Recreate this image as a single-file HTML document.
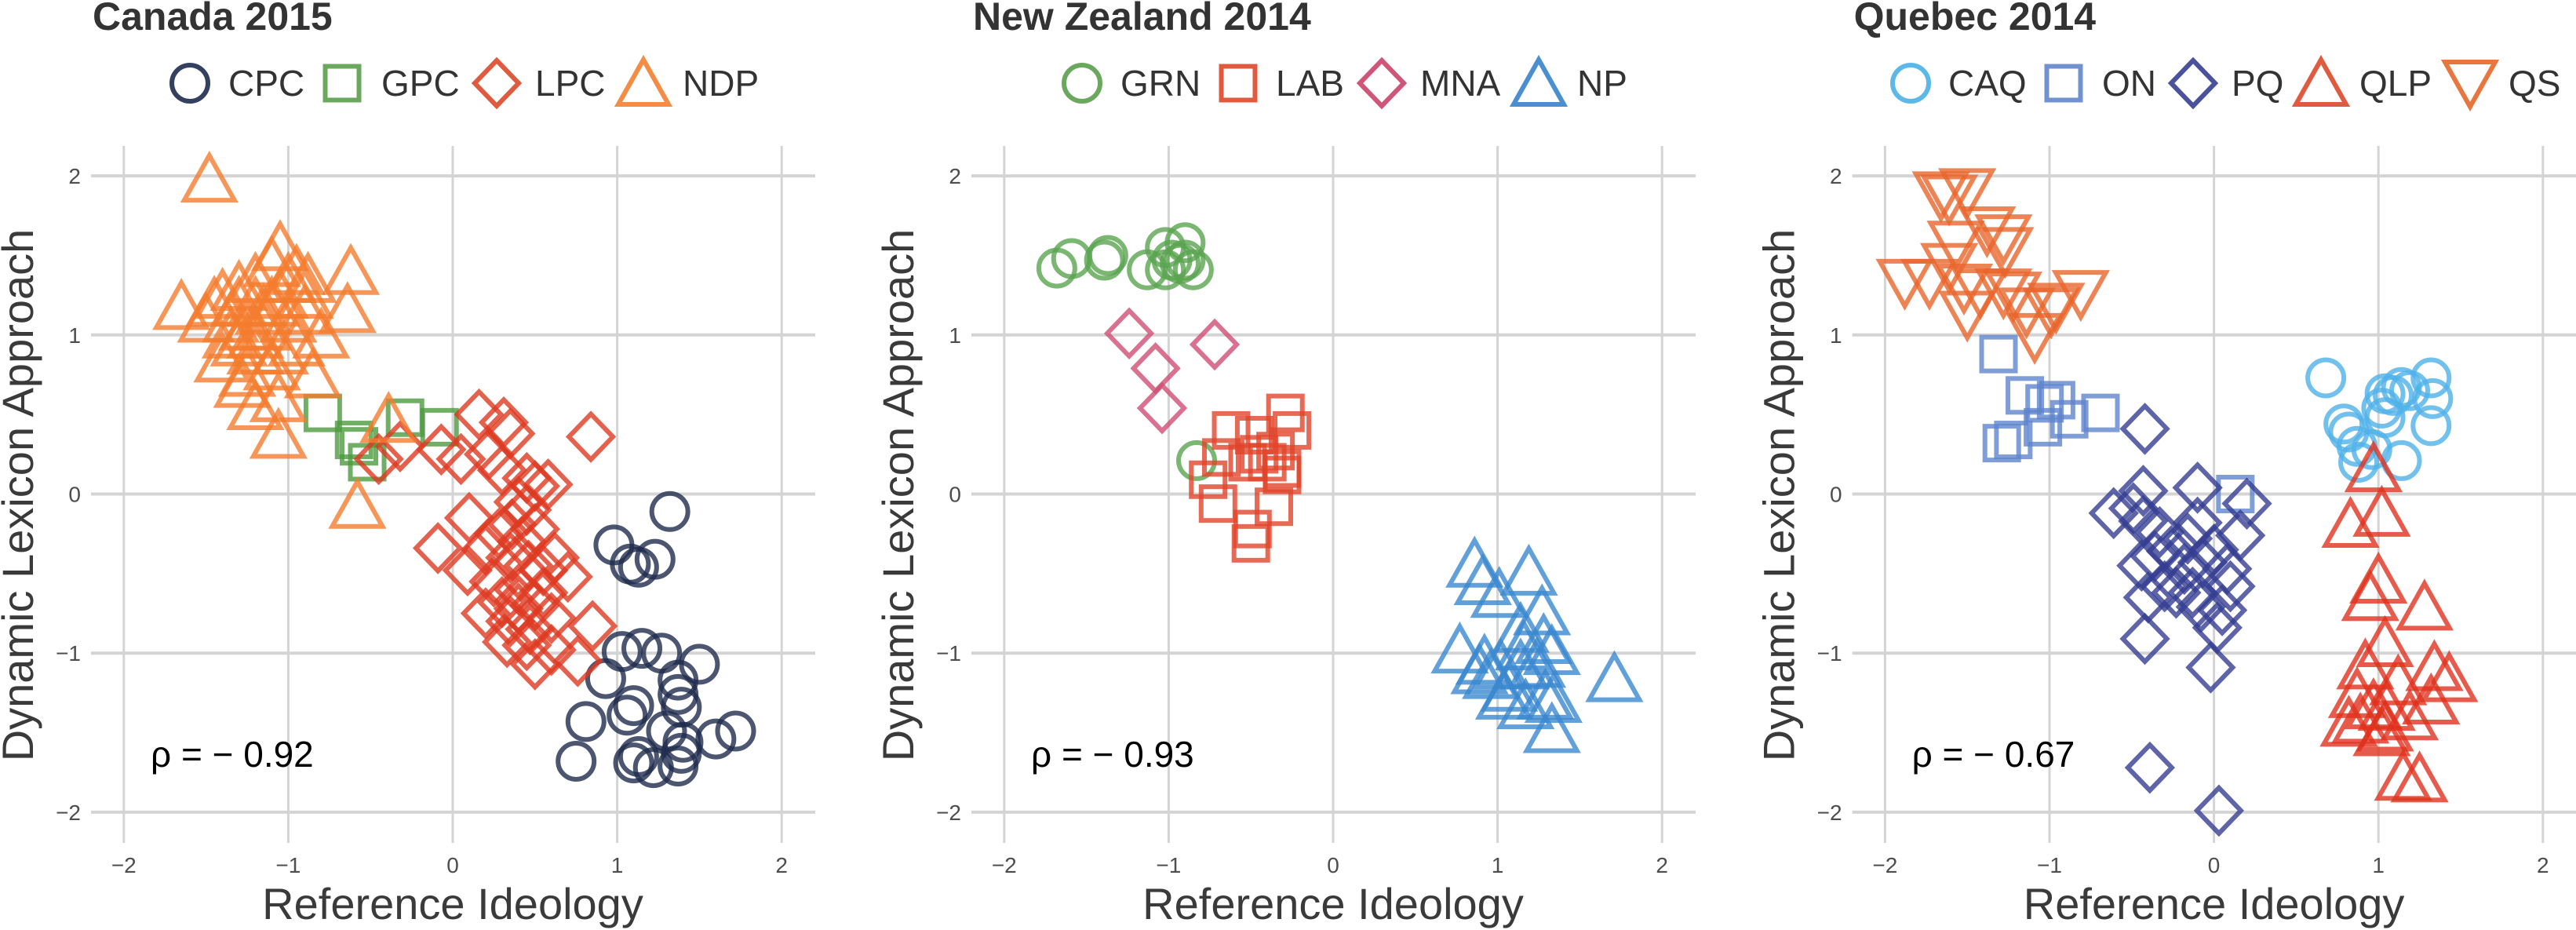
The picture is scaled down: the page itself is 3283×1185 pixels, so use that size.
<!DOCTYPE html>
<html><head><meta charset="utf-8"><style>
html,body{margin:0;padding:0;background:#fff;}
svg{display:block;font-family:"Liberation Sans",Arial,sans-serif;}
</style></head><body>
<svg id="chart" width="3283" height="1185" viewBox="0 0 3283 1185" xmlns="http://www.w3.org/2000/svg"></svg>
<script>
// ---- Data ----
const ticks = [-2,-1,0,1,2];
const tickLabels = ["\u22122","\u22121","0","1","2"];
const panelTitles = ["Canada 2015","New Zealand 2014","Quebec 2014"];
const rhoLabels = ["\u03c1 = \u2212 0.92","\u03c1 = \u2212 0.93","\u03c1 = \u2212 0.67"];

// Canada 2015
const cpc = [[1.32,-0.11],[0.98,-0.32],[1.23,-0.41],[1.13,-0.46],[1.08,-0.44],[1.03,-0.99],[1.15,-0.97],[1.27,-1.0],[1.50,-1.07],[0.93,-1.16],[1.37,-1.17],[1.37,-1.26],[1.10,-1.33],[1.39,-1.34],[0.81,-1.43],[1.06,-1.39],[1.30,-1.49],[1.40,-1.56],[1.72,-1.49],[1.60,-1.54],[0.75,-1.68],[1.10,-1.69],[1.22,-1.72],[1.37,-1.71],[1.13,-1.65],[1.39,-1.63]];
const gpc = [[-0.79,0.51],[-0.60,0.34],[-0.29,0.48],[-0.08,0.42],[-0.52,0.20],[-0.57,0.30]];
const lpc = [[0.16,0.5],[0.31,0.45],[0.35,0.38],[0.84,0.36],[-0.07,0.28],[0.05,0.22],[-0.45,0.22],[-0.32,0.3],[0.22,0.25],[0.3,0.15],[0.45,0.1],[0.5,0.05],[0.58,0.06],[0.4,-0.05],[0.45,-0.1],[0.1,-0.15],[0.36,-0.19],[0.28,-0.25],[0.5,-0.22],[0.42,-0.3],[-0.09,-0.34],[0.2,-0.35],[0.35,-0.4],[0.46,-0.45],[0.09,-0.48],[0.55,-0.48],[0.7,-0.52],[0.25,-0.55],[0.4,-0.6],[0.3,-0.68],[0.5,-0.7],[0.2,-0.75],[0.35,-0.8],[0.47,-0.85],[0.85,-0.83],[0.6,-0.78],[0.33,-0.93],[0.45,-0.95],[0.5,-1.07],[0.6,-0.98],[0.76,-1.05],[0.4,-0.72],[0.55,-0.62],[0.62,-0.4]];
const ndp = [[-1.48,1.98],[-1.05,1.55],[-1.1,1.45],[-0.95,1.4],[-0.88,1.35],[-1.3,1.3],[-1.4,1.25],[-1.2,1.2],[-1.1,1.2],[-0.9,1.15],[-1.5,1.1],[-1.35,1.1],[-1.25,1.05],[-1.15,1.05],[-1.0,1.1],[-0.8,1.0],[-0.95,0.95],[-1.3,0.95],[-1.2,0.9],[-1.05,0.9],[-1.4,0.85],[-1.25,0.76],[-1.1,0.8],[-0.85,0.75],[-1.28,0.69],[-1.2,0.55],[-1.06,0.6],[-1.45,1.2],[-1.3,1.2],[-1.2,1.35],[-1.15,1.15],[-1.05,1.25],[-1.2,1.0],[-1.35,1.0],[-0.9,1.25],[-1.0,1.35],[-0.62,1.4],[-0.64,1.16],[-1.65,1.18],[-1.06,0.37],[-0.58,-0.07],[-0.39,0.47]];

// New Zealand 2014
const grn = [[-1.68,1.42],[-1.59,1.48],[-1.37,1.50],[-1.39,1.47],[-1.13,1.41],[-1.02,1.55],[-0.90,1.58],[-0.98,1.47],[-0.85,1.41],[-1.02,1.41],[-0.93,1.45],[-0.90,1.47],[-0.83,0.21]];
const lab = [[-0.29,0.51],[-0.62,0.40],[-0.25,0.40],[-0.48,0.37],[-0.68,0.23],[-0.45,0.25],[-0.35,0.27],[-0.52,0.20],[-0.40,0.20],[-0.31,0.12],[-0.76,0.09],[-0.70,-0.06],[-0.36,-0.08],[-0.49,-0.22],[-0.50,-0.31],[-0.31,0.16]];
const mna = [[-1.24,1.01],[-0.72,0.94],[-1.08,0.79],[-1.04,0.54]];
const np = [[0.86,-0.44],[1.19,-0.49],[0.91,-0.55],[1.01,-0.63],[1.27,-0.74],[1.14,-0.85],[0.77,-0.98],[1.28,-0.92],[1.33,-0.99],[0.92,-1.05],[1.02,-1.08],[1.14,-1.08],[1.24,-1.07],[1.71,-1.16],[0.96,-1.14],[1.07,-1.22],[1.29,-1.27],[1.04,-1.27],[1.17,-1.33],[1.34,-1.29],[1.33,-1.48],[0.89,-1.11],[1.16,-0.96]];

// Quebec 2014
const caq = [[0.68,0.73],[1.04,0.63],[1.14,0.67],[1.32,0.73],[1.33,0.60],[1.09,0.62],[0.79,0.44],[0.82,0.39],[1.04,0.48],[1.32,0.43],[0.87,0.30],[0.96,0.28],[1.14,0.21],[0.88,0.20],[1.19,0.65],[1.02,0.54]];
const on = [[-1.31,0.88],[-1.15,0.62],[-1.03,0.57],[-0.96,0.59],[-0.88,0.47],[-0.69,0.51],[-1.04,0.42],[-1.29,0.32],[-1.22,0.34],[0.13,0.0]];
const pq = [[-0.42,0.41],[-0.43,0.02],[-0.10,0.04],[0.20,-0.06],[-0.61,-0.12],[-0.49,-0.09],[-0.43,-0.17],[-0.33,-0.24],[-0.10,-0.18],[0.16,-0.26],[-0.44,-0.45],[-0.26,-0.36],[-0.18,-0.47],[-0.07,-0.43],[0.08,-0.47],[0.10,-0.58],[-0.30,-0.58],[-0.23,-0.62],[-0.08,-0.71],[0.05,-0.73],[0.02,-0.84],[-0.42,-0.91],[-0.02,-1.09],[-0.39,-1.72],[0.03,-1.99],[-0.36,-0.39],[-0.16,-0.28],[0.0,-0.35],[-0.40,-0.65],[-0.13,-0.62]];
const qlp = [[0.97,0.16],[0.83,-0.19],[1.02,-0.12],[1.00,-0.54],[0.95,-0.65],[1.28,-0.71],[1.04,-0.94],[0.92,-1.08],[1.34,-1.09],[1.43,-1.16],[1.12,-1.18],[0.87,-1.26],[1.05,-1.34],[1.32,-1.30],[0.89,-1.42],[1.04,-1.47],[1.19,-1.40],[1.02,-1.50],[1.15,-1.78],[1.25,-1.79],[0.82,-1.44],[0.97,-1.33]];
const qs = [[-1.66,1.88],[-1.50,1.90],[-1.61,1.86],[-1.38,1.66],[-1.28,1.61],[-1.57,1.57],[-1.27,1.53],[-1.88,1.33],[-1.73,1.33],[-1.61,1.43],[-1.52,1.30],[-1.42,1.27],[-1.28,1.27],[-1.50,1.13],[-1.14,1.15],[-1.09,0.99],[-0.96,1.18],[-0.81,1.26],[-0.99,1.15],[-1.22,1.25]];

const panels = [
  {x0:577, legend:[[242,291],[436,486],[633,682],[820,870]],
   series:[{name:"CPC",pts:cpc,shape:"circle",color:"#1f2c4e",lc:"#34405f"},
           {name:"GPC",pts:gpc,shape:"square",color:"#4e9a40",lc:"#6aa85e"},
           {name:"LPC",pts:lpc,shape:"diamond",color:"#dd3a22",lc:"#df5a3e"},
           {name:"NDP",pts:ndp,shape:"triangle",color:"#f47c2e",lc:"#f48c45"}]},
  {x0:1699, legend:[[1379,1428],[1578,1626],[1761,1810],[1961,2010]],
   series:[{name:"GRN",pts:grn,shape:"circle",color:"#5aa450",lc:"#6aa85e"},
           {name:"LAB",pts:lab,shape:"square",color:"#e0452a",lc:"#e05a3e"},
           {name:"MNA",pts:mna,shape:"diamond",color:"#cf4f75",lc:"#cf5679"},
           {name:"NP",pts:np,shape:"triangle",color:"#3b88cf",lc:"#4a8fd0"}]},
  {x0:2821.6, legend:[[2435,2483],[2630,2679],[2795,2844],[2958,3007],[3148,3197]],
   series:[{name:"CAQ",pts:caq,shape:"circle",color:"#4fb1e8",lc:"#5db8ea"},
           {name:"ON",pts:on,shape:"square",color:"#5f85cc",lc:"#7093cf"},
           {name:"PQ",pts:pq,shape:"diamond",color:"#353d91",lc:"#4a529e"},
           {name:"QLP",pts:qlp,shape:"triangle",color:"#e0321e",lc:"#e05a40"},
           {name:"QS",pts:qs,shape:"itriangle",color:"#e8652a",lc:"#e8773f"}]}
];

// ---- Drawing ----
const NS = "http://www.w3.org/2000/svg";
const svg = document.getElementById("chart");
const UX = 209.6, UY = 202.7, Y0 = 629.5;
function sx(p, v){ return p.x0 + v*UX; }
function sy(v){ return Y0 - v*UY; }
function mk(tag, attrs, parent){
  const e = document.createElementNS(NS, tag);
  for (const k in attrs) e.setAttribute(k, attrs[k]);
  (parent||svg).appendChild(e);
  return e;
}
function shape(kind, cx, cy, color, parent, op){
  let e;
  const common = {fill:"none", stroke:color, "stroke-width":6, "stroke-opacity":op, "stroke-linejoin":"miter"};
  if (kind==="circle"){ e = mk("circle", Object.assign({cx:cx, cy:cy, r:23}, common), parent); }
  else if (kind==="square"){ e = mk("rect", Object.assign({x:cx-21.5, y:cy-21.5, width:43, height:43}, common), parent); }
  else if (kind==="diamond"){ e = mk("polygon", Object.assign({points:`${cx},${cy-29} ${cx+28},${cy} ${cx},${cy+29} ${cx-28},${cy}`}, common), parent); }
  else if (kind==="triangle"){ e = mk("polygon", Object.assign({points:`${cx},${cy-30} ${cx+32},${cy+27} ${cx-32},${cy+27}`}, common), parent); }
  else { e = mk("polygon", Object.assign({points:`${cx-32},${cy-27} ${cx+32},${cy-27} ${cx},${cy+30}`}, common), parent); }
  return e;
}

panels.forEach((p, i) => {
  const g = mk("g", {});
  
  
  // grid
  ticks.forEach((t, k) => {
    const vl = mk("line", {x1:sx(p,t), x2:sx(p,t), y1:186, y2:1074, stroke:"#d4d4d4", "stroke-width":3}, g);
    
    
    const hl = mk("line", {x1:p.x0-461, x2:Math.min(p.x0+462,3283), y1:sy(t), y2:sy(t), stroke:"#d4d4d4", "stroke-width":4}, g);
    
    
    const xt = mk("text", {x:sx(p,t), y:1112, "text-anchor":"middle", "font-size":28, fill:"#4d4d4d"}, g);
    xt.textContent = tickLabels[k];
    
    
    const yt = mk("text", {x:p.x0-474, y:sy(t)+10, "text-anchor":"end", "font-size":28, fill:"#4d4d4d"}, g);
    yt.textContent = tickLabels[k];
    
    
  });
  // titles
  const tt = mk("text", {x:p.x0-459, y:38, "font-size":50, "font-weight":"bold", fill:"#333"}, g);
  tt.textContent = panelTitles[i];
  
  
  const xa = mk("text", {x:p.x0, y:1171, "text-anchor":"middle", "font-size":56, fill:"#3a3a3a"}, g);
  xa.textContent = "Reference Ideology";
  
  
  const ya = mk("text", {x:0, y:0, "text-anchor":"middle", "font-size":56, fill:"#3a3a3a", transform:`translate(${p.x0-535},631) rotate(-90)`}, g);
  ya.textContent = "Dynamic Lexicon Approach";
  
  
  const rho = mk("text", {x:p.x0-385, y:977, "font-size":46, fill:"#000"}, g);
  rho.textContent = rhoLabels[i];
  
  
  // series
  p.series.forEach((s, j) => {
    const sg = mk("g", {}, g);
    
    
    s.pts.forEach(pt => {
      const m = shape(s.shape, sx(p,pt[0]), sy(pt[1]), s.color, sg, 0.8);
      
      
    });
    // legend
    const lg = mk("g", {}, g);
    
    
    const lm = shape(s.shape, p.legend[j][0], 106, s.lc, lg, 1);
    
    
    const lt = mk("text", {x:p.legend[j][1], y:122, "font-size":46, fill:"#333"}, lg);
    lt.textContent = s.name;
    
    
  });
});
</script>
</body></html>
